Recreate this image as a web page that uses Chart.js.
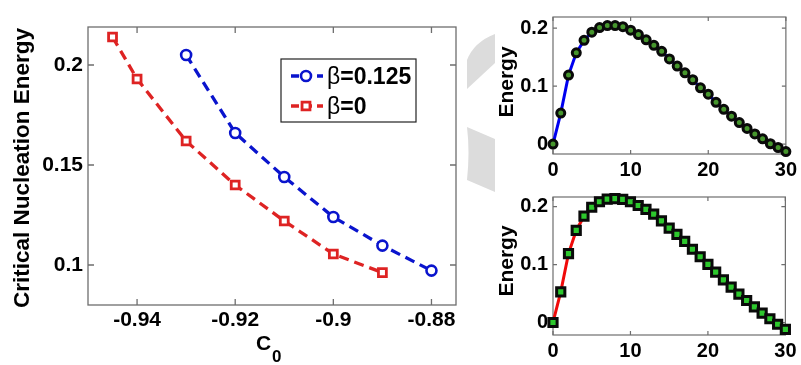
<!DOCTYPE html>
<html>
<head>
<meta charset="utf-8">
<script src="https://cdn.jsdelivr.net/npm/chart.js@4/dist/chart.umd.min.js"></script>
<style>
  html, body { margin: 0; padding: 0; background: #fff; }
  #wrap { position: relative; width: 801px; height: 365px; overflow: hidden; background: #fff; }
  canvas { position: absolute; }
</style>
</head>
<body>
<div id="wrap">
  <canvas id="bg" width="801" height="365" style="left:0;top:0"></canvas>
  <canvas id="main" width="470" height="365" style="left:0;top:0"></canvas>
  <canvas id="topR" width="341" height="180" style="left:460px;top:0"></canvas>
  <canvas id="botR" width="341" height="185" style="left:460px;top:180px"></canvas>
</div>
<script>
// ---------------- DATA ----------------
// Main panel: critical nucleation energy vs C0
const c0Beta0125 = [-0.93, -0.92, -0.91, -0.90, -0.89, -0.88];
const energyBeta0125 = [0.205, 0.166, 0.144, 0.124, 0.1097, 0.0972];
const c0Beta0 = [-0.945, -0.94, -0.93, -0.92, -0.91, -0.90, -0.89];
const energyBeta0 = [0.214, 0.193, 0.162, 0.140, 0.122, 0.1055, 0.0962];
const seriesLabels = ['β=0.125', 'β=0'];

// Main panel ticks
const mainXTicks = [-0.94, -0.92, -0.90, -0.88];
const mainXLabels = ['-0.94', '-0.92', '-0.9', '-0.88'];
const mainYTicks = [0.10, 0.15, 0.20];
const mainYLabels = ['0.1', '0.15', '0.2'];

// Right panels: energy path
const pathSteps = [0,1,2,3,4,5,6,7,8,9,10,11,12,13,14,15,16,17,18,19,20,21,22,23,24,25,26,27,28,29,30];
const pathEnergyTop = [0, 0.0535, 0.119, 0.1575, 0.179, 0.193, 0.201, 0.2045, 0.2045, 0.2025, 0.1965,
  0.189, 0.180, 0.1705, 0.160, 0.147, 0.1345, 0.123, 0.111, 0.097, 0.086,
  0.072, 0.060, 0.048, 0.037, 0.027, 0.0175, 0.009, 0.0005, -0.006, -0.013];
const pathEnergyBottom = [0, 0.053, 0.119, 0.159, 0.1835, 0.199, 0.2085, 0.213, 0.214, 0.2125, 0.2085,
  0.202, 0.1955, 0.187, 0.1755, 0.163, 0.152, 0.140, 0.1265, 0.1135, 0.1005,
  0.087, 0.0735, 0.061, 0.049, 0.038, 0.027, 0.016, 0.0065, -0.003, -0.012];
const sideXTicks = [0, 10, 20, 30];
const sideXLabels = ['0', '10', '20', '30'];
const sideYTicks = [0, 0.1, 0.2];
const sideYLabels = ['0', '0.1', '0.2'];

// ---------------- STYLE ----------------
const FONT = '"Liberation Sans", Arial, Helvetica, sans-serif';
const BLUE = 'rgb(10,20,205)';
const RED = 'rgb(222,35,35)';
const LINE_BLUE = 'rgb(0,0,240)';
const LINE_RED = 'rgb(240,10,10)';
const AXIS = '#6e6e6e';

// background watermark shapes (decoration)
(function () {
  const c = document.getElementById('bg').getContext('2d');
  c.fillStyle = '#dcdcdc';
  c.beginPath();
  c.moveTo(495, 34);
  c.lineTo(495, 63);
  c.lineTo(467, 89);
  c.lineTo(467, 60);
  c.quadraticCurveTo(474, 42, 495, 34);
  c.closePath();
  c.fill();
  c.beginPath();
  c.moveTo(467, 127);
  c.lineTo(495, 139);
  c.lineTo(495, 192);
  c.lineTo(467, 180);
  c.quadraticCurveTo(470, 152, 467, 127);
  c.closePath();
  c.fill();
})();

// ---------------- PLUGINS ----------------
const boxTicks = {
  id: 'boxTicks',
  beforeDatasetsDraw(chart, args, opts) {
    const { ctx, chartArea: a, scales: { x, y } } = chart;
    const L = opts.len || 5;
    ctx.save();
    ctx.strokeStyle = opts.color || AXIS;
    ctx.lineWidth = opts.width || 1.3;
    ctx.strokeRect(a.left, a.top, a.right - a.left, a.bottom - a.top);
    ctx.beginPath();
    x.ticks.forEach(t => {
      const px = x.getPixelForValue(t.value);
      ctx.moveTo(px, a.bottom); ctx.lineTo(px, a.bottom - L);
      ctx.moveTo(px, a.top); ctx.lineTo(px, a.top + L);
    });
    y.ticks.forEach(t => {
      const py = y.getPixelForValue(t.value);
      ctx.moveTo(a.left, py); ctx.lineTo(a.left + L, py);
      ctx.moveTo(a.right, py); ctx.lineTo(a.right - L, py);
    });
    ctx.stroke();
    ctx.restore();
  }
};

const texts = {
  id: 'texts',
  afterDraw(chart, args, opts) {
    const ctx = chart.ctx;
    (opts.items || []).forEach(it => {
      ctx.save();
      ctx.fillStyle = '#000';
      ctx.font = it.font;
      ctx.textAlign = it.align || 'center';
      ctx.textBaseline = it.baseline || 'middle';
      ctx.translate(it.x, it.y);
      if (it.rotate) ctx.rotate(it.rotate);
      ctx.fillText(it.text, 0, 0);
      ctx.restore();
    });
  }
};

const boxLegend = {
  id: 'boxLegend',
  afterDraw(chart, args, opts) {
    if (!opts.show) return;
    const ctx = chart.ctx;
    const b = opts.box;
    ctx.save();
    ctx.fillStyle = '#fff';
    ctx.fillRect(b.x, b.y, b.w, b.h);
    ctx.strokeStyle = '#222';
    ctx.lineWidth = 1.2;
    ctx.strokeRect(b.x, b.y, b.w, b.h);
    chart.data.datasets.forEach((ds, i) => {
      const cy = opts.rows[i];
      ctx.strokeStyle = ds.borderColor;
      ctx.lineWidth = ds.borderWidth;
      ctx.setLineDash([8, 5]);
      ctx.beginPath();
      ctx.moveTo(b.x + 10, cy);
      ctx.lineTo(b.x + 42, cy);
      ctx.stroke();
      ctx.setLineDash([]);
      ctx.fillStyle = ds.pointBackgroundColor;
      ctx.strokeStyle = ds.pointBorderColor;
      ctx.lineWidth = ds.pointBorderWidth;
      ctx.beginPath();
      if (ds.pointStyle === 'rect') {
        const s = ds.pointRadius * Math.SQRT1_2;
        ctx.rect(b.x + 25 - s, cy - s, 2 * s, 2 * s);
      } else {
        ctx.arc(b.x + 25, cy, ds.pointRadius, 0, Math.PI * 2);
      }
      ctx.fill();
      ctx.stroke();
      // label: beta regular, rest bold
      const lab = ds.label;
      ctx.fillStyle = '#000';
      ctx.textBaseline = 'alphabetic';
      ctx.textAlign = 'left';
      ctx.font = '23px ' + FONT;
      const g = lab.charAt(0);
      ctx.fillText(g, b.x + 46, cy + 8);
      const gw = ctx.measureText(g).width;
      ctx.font = 'bold 23px ' + FONT;
      ctx.fillText(lab.slice(1), b.x + 46 + gw, cy + 8);
    });
    ctx.restore();
  }
};

Chart.register(boxTicks, texts, boxLegend);

function axisX(min, max, tickVals, tickLabels, height, pad, size) {
  return {
    type: 'linear', min, max,
    afterFit(s) { s.height = height; },
    afterBuildTicks(s) { s.ticks = tickVals.map(v => ({ value: v })); },
    grid: { display: false, drawTicks: false },
    border: { display: false },
    ticks: {
      padding: pad, color: '#000', maxRotation: 0, minRotation: 0, autoSkip: false,
      font: { family: FONT, size, weight: 'bold' },
      callback: (v, i) => tickLabels[i]
    }
  };
}
function axisY(min, max, tickVals, tickLabels, width, pad, size) {
  return {
    type: 'linear', min, max,
    afterFit(s) { s.width = width; },
    afterBuildTicks(s) { s.ticks = tickVals.map(v => ({ value: v })); },
    grid: { display: false, drawTicks: false },
    border: { display: false },
    ticks: {
      padding: pad, color: '#000', autoSkip: false,
      font: { family: FONT, size, weight: 'bold' },
      callback: (v, i) => tickLabels[i]
    }
  };
}
const base = { responsive: false, animation: false, devicePixelRatio: 1, events: [] };

// ---------------- MAIN CHART ----------------
new Chart(document.getElementById('main'), {
  type: 'line',
  data: {
    datasets: [
      {
        label: seriesLabels[0],
        data: c0Beta0125.map((c, i) => ({ x: c, y: energyBeta0125[i] })),
        borderColor: BLUE, borderWidth: 3.3, borderDash: [10, 6], fill: false, tension: 0,
        pointStyle: 'circle', pointRadius: 5, pointBorderWidth: 2.6,
        pointBackgroundColor: '#fff', pointBorderColor: BLUE, clip: false
      },
      {
        label: seriesLabels[1],
        data: c0Beta0.map((c, i) => ({ x: c, y: energyBeta0[i] })),
        borderColor: RED, borderWidth: 3.3, borderDash: [10, 6], fill: false, tension: 0,
        pointStyle: 'rect', pointRadius: 5.6, pointBorderWidth: 2.8,
        pointBackgroundColor: '#fff', pointBorderColor: RED, clip: false
      }
    ]
  },
  options: Object.assign({}, base, {
    layout: { padding: { left: 0, top: 27, right: 14, bottom: 0 } },
    scales: {
      x: axisX(-0.95, -0.875, mainXTicks, mainXLabels, 60, 3, 21),
      y: axisY(0.08, 0.219, mainYTicks, mainYLabels, 88, 5, 21)
    },
    plugins: {
      legend: { display: false },
      tooltip: { enabled: false },
      boxTicks: { len: 6, color: AXIS, width: 1.3 },
      boxLegend: { show: true, box: { x: 281, y: 59, w: 135, h: 63 }, rows: [76, 106] },
      texts: {
        items: [
          { text: 'Critical Nucleation Energy', x: 23, y: 168, rotate: -Math.PI / 2, font: 'bold 22.5px ' + FONT },
          { text: 'C', x: 256, y: 350, align: 'left', baseline: 'alphabetic', font: 'bold 21px ' + FONT },
          { text: '0', x: 272, y: 362, align: 'left', baseline: 'alphabetic', font: 'bold 17px ' + FONT }
        ]
      }
    }
  })
});

// ---------------- RIGHT PANELS ----------------
function sidePanel(id, values, lineColor, pointStyle, radius, fillColor, yMin, yMax, top, xAxisH, xPad, titleY) {
  new Chart(document.getElementById(id), {
    type: 'line',
    data: {
      datasets: [{
        label: 'Energy',
        data: pathSteps.map((s, i) => ({ x: s, y: values[i] })),
        borderColor: lineColor, borderWidth: 3, fill: false, tension: 0,
        pointStyle, pointRadius: radius, pointBorderWidth: 3,
        pointBackgroundColor: fillColor, pointBorderColor: '#0a0a0a', clip: false
      }]
    },
    options: Object.assign({}, base, {
      layout: { padding: { left: 0, top, right: 11, bottom: 0 } },
      scales: {
        x: axisX(0, 30, sideXTicks, sideXLabels, xAxisH, xPad, 20),
        y: axisY(yMin, yMax, sideYTicks, sideYLabels, 93, 5, 20)
      },
      plugins: {
        legend: { display: false },
        tooltip: { enabled: false },
        boxTicks: { len: 4, color: AXIS, width: 1.2 },
        boxLegend: { show: false },
        texts: {
          items: [
            { text: 'Energy', x: 47, y: titleY, rotate: -Math.PI / 2, font: 'bold 21px ' + FONT }
          ]
        }
      }
    })
  });
}
sidePanel('topR', pathEnergyTop, LINE_BLUE, 'circle', 4, 'rgb(70,150,45)', -0.0172, 0.2193, 7, 26, 4, 82);
sidePanel('botR', pathEnergyBottom, LINE_RED, 'rect', 5.8, 'rgb(45,200,45)', -0.0216, 0.2167, 8, 30, 4.5, 81);
</script>
</body>
</html>
